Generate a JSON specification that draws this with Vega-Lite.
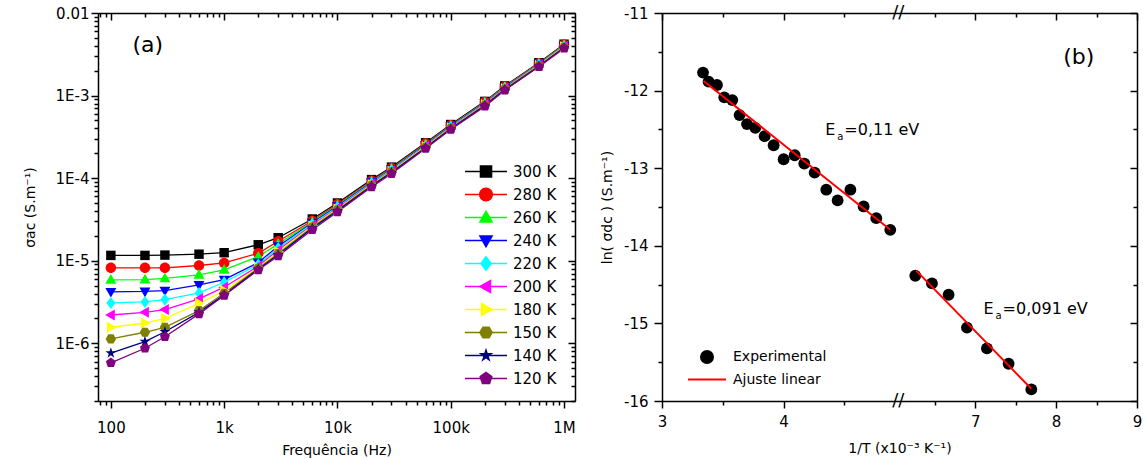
{
  "$schema": "https://vega.github.io/schema/vega-lite/v6.json",
  "background": "white",
  "padding": {"left": 23, "top": 4, "right": 2, "bottom": 2},
  "spacing": 24,
  "resolve": {"scale": {"color": "independent", "fill": "independent", "stroke": "independent", "shape": "independent", "x": "independent", "y": "independent"}, "legend": {"color": "independent", "fill": "independent", "stroke": "independent", "shape": "independent"}},
  "config": {
    "font": "DejaVu Sans",
    "view": {"stroke": null},
    "axis": {"labelFont": "DejaVu Sans", "titleFont": "DejaVu Sans", "labelFontSize": 15, "titleFontSize": 14, "titleFontWeight": "normal", "labelColor": "black", "titleColor": "black", "domainColor": "black", "tickColor": "black", "tickOpacity": 1, "ticks": true, "domainWidth": 1.5, "tickWidth": 1.5, "grid": false, "labelOverlap": false, "labelFlush": false},
    "legend": {"labelFont": "DejaVu Sans", "labelColor": "black"}
  },
  "datasets": {
    "cond": [
      {"f":100,"s":1.16e-5,"T":"300 K"},{"f":200,"s":1.16e-5,"T":"300 K"},{"f":300,"s":1.17e-5,"T":"300 K"},{"f":600,"s":1.2e-5,"T":"300 K"},{"f":1000,"s":1.25e-5,"T":"300 K"},{"f":2000,"s":1.56e-5,"T":"300 K"},{"f":3000,"s":1.9e-5,"T":"300 K"},{"f":6000,"s":3.2e-5,"T":"300 K"},{"f":10000,"s":5.0e-5,"T":"300 K"},{"f":20000,"s":9.6e-5,"T":"300 K"},{"f":30000,"s":1.36e-4,"T":"300 K"},{"f":60000,"s":2.68e-4,"T":"300 K"},{"f":100000,"s":4.46e-4,"T":"300 K"},{"f":200000,"s":8.5e-4,"T":"300 K"},{"f":300000,"s":1.31e-3,"T":"300 K"},{"f":600000,"s":2.5e-3,"T":"300 K"},{"f":1000000,"s":4.19e-3,"T":"300 K"},
      {"f":100,"s":8.2e-6,"T":"280 K"},{"f":200,"s":8.2e-6,"T":"280 K"},{"f":300,"s":8.2e-6,"T":"280 K"},{"f":600,"s":8.75e-6,"T":"280 K"},{"f":1000,"s":9.4e-6,"T":"280 K"},{"f":2000,"s":1.23e-5,"T":"280 K"},{"f":3000,"s":1.72e-5,"T":"280 K"},{"f":6000,"s":3.05e-5,"T":"280 K"},{"f":10000,"s":4.82e-5,"T":"280 K"},{"f":20000,"s":9.3e-5,"T":"280 K"},{"f":30000,"s":1.33e-4,"T":"280 K"},{"f":60000,"s":2.62e-4,"T":"280 K"},{"f":100000,"s":4.37e-4,"T":"280 K"},{"f":200000,"s":8.36e-4,"T":"280 K"},{"f":300000,"s":1.29e-3,"T":"280 K"},{"f":600000,"s":2.46e-3,"T":"280 K"},{"f":1000000,"s":4.12e-3,"T":"280 K"},
      {"f":100,"s":5.86e-6,"T":"260 K"},{"f":200,"s":5.9e-6,"T":"260 K"},{"f":300,"s":6.1e-6,"T":"260 K"},{"f":600,"s":6.75e-6,"T":"260 K"},{"f":1000,"s":7.76e-6,"T":"260 K"},{"f":2000,"s":1.12e-5,"T":"260 K"},{"f":3000,"s":1.6e-5,"T":"260 K"},{"f":6000,"s":2.97e-5,"T":"260 K"},{"f":10000,"s":4.69e-5,"T":"260 K"},{"f":20000,"s":9.1e-5,"T":"260 K"},{"f":30000,"s":1.3e-4,"T":"260 K"},{"f":60000,"s":2.57e-4,"T":"260 K"},{"f":100000,"s":4.31e-4,"T":"260 K"},{"f":200000,"s":8.24e-4,"T":"260 K"},{"f":300000,"s":1.27e-3,"T":"260 K"},{"f":600000,"s":2.43e-3,"T":"260 K"},{"f":1000000,"s":4.07e-3,"T":"260 K"},
      {"f":100,"s":4.2e-6,"T":"240 K"},{"f":200,"s":4.25e-6,"T":"240 K"},{"f":300,"s":4.35e-6,"T":"240 K"},{"f":600,"s":5.1e-6,"T":"240 K"},{"f":1000,"s":5.9e-6,"T":"240 K"},{"f":2000,"s":9.5e-6,"T":"240 K"},{"f":3000,"s":1.5e-5,"T":"240 K"},{"f":6000,"s":2.88e-5,"T":"240 K"},{"f":10000,"s":4.58e-5,"T":"240 K"},{"f":20000,"s":8.92e-5,"T":"240 K"},{"f":30000,"s":1.28e-4,"T":"240 K"},{"f":60000,"s":2.53e-4,"T":"240 K"},{"f":100000,"s":4.25e-4,"T":"240 K"},{"f":200000,"s":8.13e-4,"T":"240 K"},{"f":300000,"s":1.25e-3,"T":"240 K"},{"f":600000,"s":2.4e-3,"T":"240 K"},{"f":1000000,"s":4.02e-3,"T":"240 K"},
      {"f":100,"s":3.08e-6,"T":"220 K"},{"f":200,"s":3.17e-6,"T":"220 K"},{"f":300,"s":3.38e-6,"T":"220 K"},{"f":600,"s":4.07e-6,"T":"220 K"},{"f":1000,"s":5.48e-6,"T":"220 K"},{"f":2000,"s":9.0e-6,"T":"220 K"},{"f":3000,"s":1.42e-5,"T":"220 K"},{"f":6000,"s":2.8e-5,"T":"220 K"},{"f":10000,"s":4.46e-5,"T":"220 K"},{"f":20000,"s":8.74e-5,"T":"220 K"},{"f":30000,"s":1.26e-4,"T":"220 K"},{"f":60000,"s":2.49e-4,"T":"220 K"},{"f":100000,"s":4.19e-4,"T":"220 K"},{"f":200000,"s":8.02e-4,"T":"220 K"},{"f":300000,"s":1.24e-3,"T":"220 K"},{"f":600000,"s":2.37e-3,"T":"220 K"},{"f":1000000,"s":3.98e-3,"T":"220 K"},
      {"f":100,"s":2.2e-6,"T":"200 K"},{"f":200,"s":2.37e-6,"T":"200 K"},{"f":300,"s":2.56e-6,"T":"200 K"},{"f":600,"s":3.45e-6,"T":"200 K"},{"f":1000,"s":4.78e-6,"T":"200 K"},{"f":2000,"s":8.6e-6,"T":"200 K"},{"f":3000,"s":1.35e-5,"T":"200 K"},{"f":6000,"s":2.71e-5,"T":"200 K"},{"f":10000,"s":4.35e-5,"T":"200 K"},{"f":20000,"s":8.56e-5,"T":"200 K"},{"f":30000,"s":1.23e-4,"T":"200 K"},{"f":60000,"s":2.45e-4,"T":"200 K"},{"f":100000,"s":4.13e-4,"T":"200 K"},{"f":200000,"s":7.91e-4,"T":"200 K"},{"f":300000,"s":1.23e-3,"T":"200 K"},{"f":600000,"s":2.35e-3,"T":"200 K"},{"f":1000000,"s":3.93e-3,"T":"200 K"},
      {"f":100,"s":1.56e-6,"T":"180 K"},{"f":200,"s":1.76e-6,"T":"180 K"},{"f":300,"s":2.0e-6,"T":"180 K"},{"f":600,"s":3.05e-6,"T":"180 K"},{"f":1000,"s":4.35e-6,"T":"180 K"},{"f":2000,"s":8.3e-6,"T":"180 K"},{"f":3000,"s":1.28e-5,"T":"180 K"},{"f":6000,"s":2.63e-5,"T":"180 K"},{"f":10000,"s":4.24e-5,"T":"180 K"},{"f":20000,"s":8.38e-5,"T":"180 K"},{"f":30000,"s":1.21e-4,"T":"180 K"},{"f":60000,"s":2.41e-4,"T":"180 K"},{"f":100000,"s":4.07e-4,"T":"180 K"},{"f":200000,"s":7.8e-4,"T":"180 K"},{"f":300000,"s":1.21e-3,"T":"180 K"},{"f":600000,"s":2.32e-3,"T":"180 K"},{"f":1000000,"s":3.89e-3,"T":"180 K"},
      {"f":100,"s":1.13e-6,"T":"150 K"},{"f":200,"s":1.36e-6,"T":"150 K"},{"f":300,"s":1.56e-6,"T":"150 K"},{"f":600,"s":2.49e-6,"T":"150 K"},{"f":1000,"s":4.03e-6,"T":"150 K"},{"f":2000,"s":8.1e-6,"T":"150 K"},{"f":3000,"s":1.22e-5,"T":"150 K"},{"f":6000,"s":2.56e-5,"T":"150 K"},{"f":10000,"s":4.13e-5,"T":"150 K"},{"f":20000,"s":8.21e-5,"T":"150 K"},{"f":30000,"s":1.19e-4,"T":"150 K"},{"f":60000,"s":2.37e-4,"T":"150 K"},{"f":100000,"s":4.02e-4,"T":"150 K"},{"f":200000,"s":7.69e-4,"T":"150 K"},{"f":300000,"s":1.2e-3,"T":"150 K"},{"f":600000,"s":2.29e-3,"T":"150 K"},{"f":1000000,"s":3.84e-3,"T":"150 K"},
      {"f":100,"s":7.6e-7,"T":"140 K"},{"f":200,"s":1.05e-6,"T":"140 K"},{"f":300,"s":1.38e-6,"T":"140 K"},{"f":600,"s":2.37e-6,"T":"140 K"},{"f":1000,"s":3.86e-6,"T":"140 K"},{"f":2000,"s":7.9e-6,"T":"140 K"},{"f":3000,"s":1.18e-5,"T":"140 K"},{"f":6000,"s":2.48e-5,"T":"140 K"},{"f":10000,"s":4.03e-5,"T":"140 K"},{"f":20000,"s":8.04e-5,"T":"140 K"},{"f":30000,"s":1.17e-4,"T":"140 K"},{"f":60000,"s":2.34e-4,"T":"140 K"},{"f":100000,"s":3.96e-4,"T":"140 K"},{"f":200000,"s":7.59e-4,"T":"140 K"},{"f":300000,"s":1.18e-3,"T":"140 K"},{"f":600000,"s":2.27e-3,"T":"140 K"},{"f":1000000,"s":3.8e-3,"T":"140 K"},
      {"f":100,"s":5.8e-7,"T":"120 K"},{"f":200,"s":8.7e-7,"T":"120 K"},{"f":300,"s":1.2e-6,"T":"120 K"},{"f":600,"s":2.27e-6,"T":"120 K"},{"f":1000,"s":3.8e-6,"T":"120 K"},{"f":2000,"s":7.7e-6,"T":"120 K"},{"f":3000,"s":1.14e-5,"T":"120 K"},{"f":6000,"s":2.37e-5,"T":"120 K"},{"f":10000,"s":3.88e-5,"T":"120 K"},{"f":20000,"s":7.8e-5,"T":"120 K"},{"f":30000,"s":1.13e-4,"T":"120 K"},{"f":60000,"s":2.28e-4,"T":"120 K"},{"f":100000,"s":3.88e-4,"T":"120 K"},{"f":200000,"s":7.4e-4,"T":"120 K"},{"f":300000,"s":1.16e-3,"T":"120 K"},{"f":600000,"s":2.23e-3,"T":"120 K"},{"f":1000000,"s":3.73e-3,"T":"120 K"}
    ],
    "exp": [
      {"x":3.337,"y":-11.768,"series":"Experimental"},{"x":3.383,"y":-11.885,"series":"Experimental"},{"x":3.452,"y":-11.928,"series":"Experimental"},{"x":3.512,"y":-12.087,"series":"Experimental"},{"x":3.578,"y":-12.122,"series":"Experimental"},{"x":3.638,"y":-12.316,"series":"Experimental"},{"x":3.699,"y":-12.432,"series":"Experimental"},{"x":3.767,"y":-12.48,"series":"Experimental"},{"x":3.844,"y":-12.587,"series":"Experimental"},{"x":3.918,"y":-12.704,"series":"Experimental"},{"x":4.0,"y":-12.885,"series":"Experimental"},{"x":4.091,"y":-12.833,"series":"Experimental"},{"x":4.17,"y":-12.94,"series":"Experimental"},{"x":4.255,"y":-13.057,"series":"Experimental"},{"x":4.351,"y":-13.277,"series":"Experimental"},{"x":4.444,"y":-13.415,"series":"Experimental"},{"x":4.549,"y":-13.277,"series":"Experimental"},{"x":4.658,"y":-13.493,"series":"Experimental"},{"x":4.762,"y":-13.644,"series":"Experimental"},{"x":4.877,"y":-13.794,"series":"Experimental"},
      {"x":6.258,"y":-14.386,"series":"Experimental"},{"x":6.464,"y":-14.485,"series":"Experimental"},{"x":6.67,"y":-14.631,"series":"Experimental"},{"x":6.897,"y":-15.054,"series":"Experimental"},{"x":7.144,"y":-15.321,"series":"Experimental"},{"x":7.412,"y":-15.52,"series":"Experimental"},{"x":7.693,"y":-15.851,"series":"Experimental"}
    ],
    "fit": [
      {"x":3.342,"y":-11.876,"seg":1,"series":"Ajuste linear"},{"x":4.877,"y":-13.794,"seg":1,"series":"Ajuste linear"},
      {"x":6.27,"y":-14.32,"seg":2,"series":"Ajuste linear"},{"x":7.693,"y":-15.843,"seg":2,"series":"Ajuste linear"}
    ],
    "notes": [
      {"x":4.343,"y":-12.574,"v":"=0,11 eV"},{"x":7.103,"y":-14.881,"v":"=0,091 eV"}
    ],
    "brk": [
      {"x":5.5,"y":-11,"t":"//"},{"x":5.5,"y":-16,"t":"//"}
    ]
  },
  "hconcat": [
    {
      "width": 477,
      "height": 388,
      "resolve": {"axis": {"x": "independent", "y": "independent"}},
      "layer": [
        {
          "data": {"name": "cond"},
          "mark": {"type": "line", "strokeWidth": 1.3},
          "encoding": {
            "x": {"field": "f", "type": "quantitative", "scale": {"type": "log", "domain": [77, 1250000], "nice": false},
              "axis": {"orient": "bottom", "title": "Frequência (Hz)", "titlePadding": 8, "labelPadding": 12, "tickSize": 7, "ticks": true,
                "values": [100,1000,10000,100000,1000000],
                "labelExpr": "datum.value===100?'100':datum.value===1000?'1k':datum.value===10000?'10k':datum.value===100000?'100k':datum.value===1000000?'1M':''"}},
            "y": {"field": "s", "type": "quantitative", "scale": {"type": "log", "domain": [2e-7, 0.01], "nice": false},
              "axis": {"orient": "left", "title": "σac (S.m⁻¹)", "titlePadding": 18, "labelPadding": 2, "tickSize": 7, "ticks": true,
                "values": [1e-6,1e-5,1e-4,1e-3,0.01],
                "labelExpr": "datum.value===0.01?'0.01':datum.value===0.001?'1E-3':datum.value===0.0001?'1E-4':datum.value===0.00001?'1E-5':datum.value===0.000001?'1E-6':''"}},
            "stroke": {"field": "T", "type": "nominal", "sort": "descending",
              "scale": {"range": ["#000000","#ff0000","#00ff00","#0000ff","#00ffff","#ff00ff","#ffff00","#808000","#000080","#800080"]},
              "legend": {"orient": "none", "legendX": 366, "legendY": 147, "title": null, "padding": 0, "symbolType": "stroke", "symbolSize": 1764, "symbolStrokeWidth": 1.5, "labelFontSize": 15, "labelOpacity": 0, "labelOffset": 5, "clipHeight": 23, "rowPadding": 0}}
          }
        },
        {
          "data": {"name": "cond"},
          "mark": {"type": "point", "filled": true, "size": 110, "opacity": 1},
          "encoding": {
            "x": {"field": "f", "type": "quantitative",
              "axis": {"orient": "bottom", "title": null, "labels": false, "domain": false, "tickSize": 4, "ticks": true,
                "values": [80,90,200,300,400,500,600,700,800,900,2000,3000,4000,5000,6000,7000,8000,9000,20000,30000,40000,50000,60000,70000,80000,90000,200000,300000,400000,500000,600000,700000,800000,900000]}},
            "y": {"field": "s", "type": "quantitative",
              "axis": {"orient": "left", "title": null, "labels": false, "domain": false, "tickSize": 4, "ticks": true,
                "values": [2e-7,3e-7,4e-7,5e-7,6e-7,7e-7,8e-7,9e-7,2e-6,3e-6,4e-6,5e-6,6e-6,7e-6,8e-6,9e-6,2e-5,3e-5,4e-5,5e-5,6e-5,7e-5,8e-5,9e-5,2e-4,3e-4,4e-4,5e-4,6e-4,7e-4,8e-4,9e-4,2e-3,3e-3,4e-3,5e-3,6e-3,7e-3,8e-3,9e-3]}},
            "fill": {"field": "T", "type": "nominal",
              "scale": {"domain": ["300 K","280 K","260 K","240 K","220 K","200 K","180 K","150 K","140 K","120 K"], "range": ["#000000","#ff0000","#00ff00","#0000ff","#00ffff","#ff00ff","#ffff00","#808000","#000080","#800080"]},
              "legend": {"orient": "none", "legendX": 380, "legendY": 147, "title": null, "padding": 0, "labelFontSize": 15, "labelOffset": 19, "symbolSize": 196, "clipHeight": 23, "rowPadding": 0}},
            "shape": {"field": "T", "type": "nominal",
              "scale": {"domain": ["300 K","280 K","260 K","240 K","220 K","200 K","180 K","150 K","140 K","120 K"],
                "range": ["M-0.9,-0.9L0.9,-0.9L0.9,0.9L-0.9,0.9Z","M1,0A1,1,0,1,1,-1,0A1,1,0,1,1,1,0Z","M0,-1.1L1.05,0.75L-1.05,0.75Z","M0,1.1L1.05,-0.75L-1.05,-0.75Z","M0,-1.15L0.85,0L0,1.15L-0.85,0Z","M-1.1,0L0.75,-1.05L0.75,1.05Z","M1.1,0L-0.75,-1.05L-0.75,1.05Z","M-0.5,-0.87L0.5,-0.87L1,0L0.5,0.87L-0.5,0.87L-1,0Z","M0,-1.1L0.247,-0.34L1.046,-0.34L0.4,0.13L0.647,0.89L0,0.42L-0.647,0.89L-0.4,0.13L-1.046,-0.34L-0.247,-0.34Z","M0,-1L0.951,-0.309L0.588,0.809L-0.588,0.809L-0.951,-0.309Z"]},
              "legend": {"orient": "none", "legendX": 380, "legendY": 147, "title": null, "padding": 0, "labelFontSize": 15, "labelOffset": 19, "symbolSize": 196, "clipHeight": 23, "rowPadding": 0}}
          }
        },
        {
          "data": {"name": "cond"},
          "mark": {"type": "point", "opacity": 0},
          "encoding": {
            "x": {"field": "f", "type": "quantitative",
              "axis": {"orient": "top", "title": null, "labels": false, "tickSize": -7, "ticks": true, "values": [100,1000,10000,100000,1000000]}},
            "y": {"field": "s", "type": "quantitative",
              "axis": {"orient": "right", "title": null, "labels": false, "tickSize": -7, "ticks": true, "values": [1e-6,1e-5,1e-4,1e-3,0.01]}}
          }
        },
        {
          "data": {"name": "cond"},
          "mark": {"type": "point", "opacity": 0},
          "encoding": {
            "x": {"field": "f", "type": "quantitative",
              "axis": {"orient": "top", "title": null, "labels": false, "domain": false, "tickSize": -4, "ticks": true,
                "values": [80,90,200,300,400,500,600,700,800,900,2000,3000,4000,5000,6000,7000,8000,9000,20000,30000,40000,50000,60000,70000,80000,90000,200000,300000,400000,500000,600000,700000,800000,900000]}},
            "y": {"field": "s", "type": "quantitative",
              "axis": {"orient": "right", "title": null, "labels": false, "domain": false, "tickSize": -4, "ticks": true,
                "values": [2e-7,3e-7,4e-7,5e-7,6e-7,7e-7,8e-7,9e-7,2e-6,3e-6,4e-6,5e-6,6e-6,7e-6,8e-6,9e-6,2e-5,3e-5,4e-5,5e-5,6e-5,7e-5,8e-5,9e-5,2e-4,3e-4,4e-4,5e-4,6e-4,7e-4,8e-4,9e-4,2e-3,3e-3,4e-3,5e-3,6e-3,7e-3,8e-3,9e-3]}}
          }
        },
        {
          "data": {"values": [{"f": 155, "s": 0.0041, "label": "(a)"}]},
          "mark": {"type": "text", "align": "left", "baseline": "middle", "fontSize": 22, "font": "DejaVu Sans", "color": "black"},
          "encoding": {
            "x": {"field": "f", "type": "quantitative", "axis": null},
            "y": {"field": "s", "type": "quantitative", "axis": null},
            "text": {"field": "label"}
          }
        }
      ]
    },
    {
      "width": 475,
      "height": 388,
      "resolve": {"axis": {"x": "independent", "y": "independent"}},
      "layer": [
        {
          "data": {"name": "exp"},
          "mark": {"type": "circle", "size": 140, "opacity": 1},
          "encoding": {
            "x": {"field": "x", "type": "quantitative",
              "scale": {"type": "linear", "domain": [3, 4.943, 6.048, 9], "range": [0, 236.3, 236.3, 475], "zero": false, "nice": false},
              "axis": {"orient": "bottom", "title": "1/T (x10⁻³  K⁻¹)", "titlePadding": 12, "labelPadding": 6, "tickSize": 7, "ticks": true,
                "values": [3, 4, 7, 8, 9]}},
            "y": {"field": "y", "type": "quantitative",
              "scale": {"domain": [-16, -11], "zero": false, "nice": false},
              "axis": {"orient": "left", "title": "ln( σdc ) (S.m⁻¹)", "titlePadding": 9, "labelPadding": 6, "tickSize": 8, "ticks": true,
                "values": [-16, -15, -14, -13, -12, -11],
                "labelExpr": "'' + datum.value"}},
            "fill": {"field": "series", "type": "nominal",
              "scale": {"domain": ["Experimental"], "range": ["#000000"]},
              "legend": {"orient": "none", "legendX": 37, "legendY": 333, "title": null, "padding": 0, "labelFontSize": 14, "labelOffset": 18, "symbolSize": 196, "clipHeight": 22, "rowPadding": 0}}
          }
        },
        {
          "data": {"name": "fit"},
          "mark": {"type": "line", "strokeWidth": 2},
          "encoding": {
            "x": {"field": "x", "type": "quantitative",
              "axis": {"orient": "bottom", "title": null, "labels": false, "domain": false, "tickSize": 4, "ticks": true, "values": [3.5, 4.5, 6.5, 7.5, 8.5]}},
            "y": {"field": "y", "type": "quantitative",
              "axis": {"orient": "left", "title": null, "labels": false, "domain": false, "tickSize": 4, "ticks": true, "values": [-15.5, -14.5, -13.5, -12.5, -11.5]}},
            "stroke": {"field": "series", "type": "nominal",
              "scale": {"domain": ["Ajuste linear"], "range": ["#ff0000"]},
              "legend": {"orient": "none", "legendX": 25, "legendY": 355.5, "title": null, "padding": 0, "labelFontSize": 14, "labelOffset": 6, "symbolType": "stroke", "symbolSize": 1444, "symbolStrokeWidth": 2, "clipHeight": 22, "rowPadding": 0}},
            "detail": {"field": "seg", "type": "nominal"}
          }
        },
        {
          "data": {"name": "exp"},
          "mark": {"type": "point", "opacity": 0},
          "encoding": {
            "x": {"field": "x", "type": "quantitative",
              "axis": {"orient": "top", "title": null, "labels": false, "tickSize": -7, "ticks": true, "values": [3, 4, 7, 8, 9]}},
            "y": {"field": "y", "type": "quantitative",
              "axis": {"orient": "right", "title": null, "labels": false, "tickSize": -7, "ticks": true, "values": [-16, -15, -14, -13, -12, -11]}}
          }
        },
        {
          "data": {"name": "exp"},
          "mark": {"type": "point", "opacity": 0},
          "encoding": {
            "x": {"field": "x", "type": "quantitative",
              "axis": {"orient": "top", "title": null, "labels": false, "domain": false, "tickSize": -4, "ticks": true, "values": [3.5, 4.5, 6.5, 7.5, 8.5]}},
            "y": {"field": "y", "type": "quantitative",
              "axis": {"orient": "right", "title": null, "labels": false, "domain": false, "tickSize": -4, "ticks": true, "values": [-15.5, -14.5, -13.5, -12.5, -11.5]}}
          }
        },
        {
          "data": {"name": "brk"},
          "mark": {"type": "text", "align": "center", "baseline": "middle", "fontSize": 18, "font": "DejaVu Sans", "color": "black"},
          "encoding": {
            "x": {"field": "x", "type": "quantitative", "axis": null},
            "y": {"field": "y", "type": "quantitative", "axis": null},
            "text": {"field": "t"}
          }
        },
        {
          "data": {"name": "notes"},
          "mark": {"type": "text", "align": "left", "baseline": "alphabetic", "fontSize": 16, "font": "DejaVu Sans", "color": "black", "text": "E"},
          "encoding": {
            "x": {"field": "x", "type": "quantitative", "axis": null},
            "y": {"field": "y", "type": "quantitative", "axis": null}
          }
        },
        {
          "data": {"name": "notes"},
          "mark": {"type": "text", "align": "left", "baseline": "alphabetic", "fontSize": 10, "font": "DejaVu Sans", "color": "black", "text": "a", "dx": 12, "dy": 5},
          "encoding": {
            "x": {"field": "x", "type": "quantitative", "axis": null},
            "y": {"field": "y", "type": "quantitative", "axis": null}
          }
        },
        {
          "data": {"name": "notes"},
          "mark": {"type": "text", "align": "left", "baseline": "alphabetic", "fontSize": 16, "font": "DejaVu Sans", "color": "black", "dx": 19},
          "encoding": {
            "x": {"field": "x", "type": "quantitative", "axis": null},
            "y": {"field": "y", "type": "quantitative", "axis": null},
            "text": {"field": "v"}
          }
        },
        {
          "data": {"values": [{"x": 8.088, "y": -11.565, "label": "(b)"}]},
          "mark": {"type": "text", "align": "left", "baseline": "middle", "fontSize": 22, "font": "DejaVu Sans", "color": "black"},
          "encoding": {
            "x": {"field": "x", "type": "quantitative", "axis": null},
            "y": {"field": "y", "type": "quantitative", "axis": null},
            "text": {"field": "label"}
          }
        }
      ]
    }
  ]
}
